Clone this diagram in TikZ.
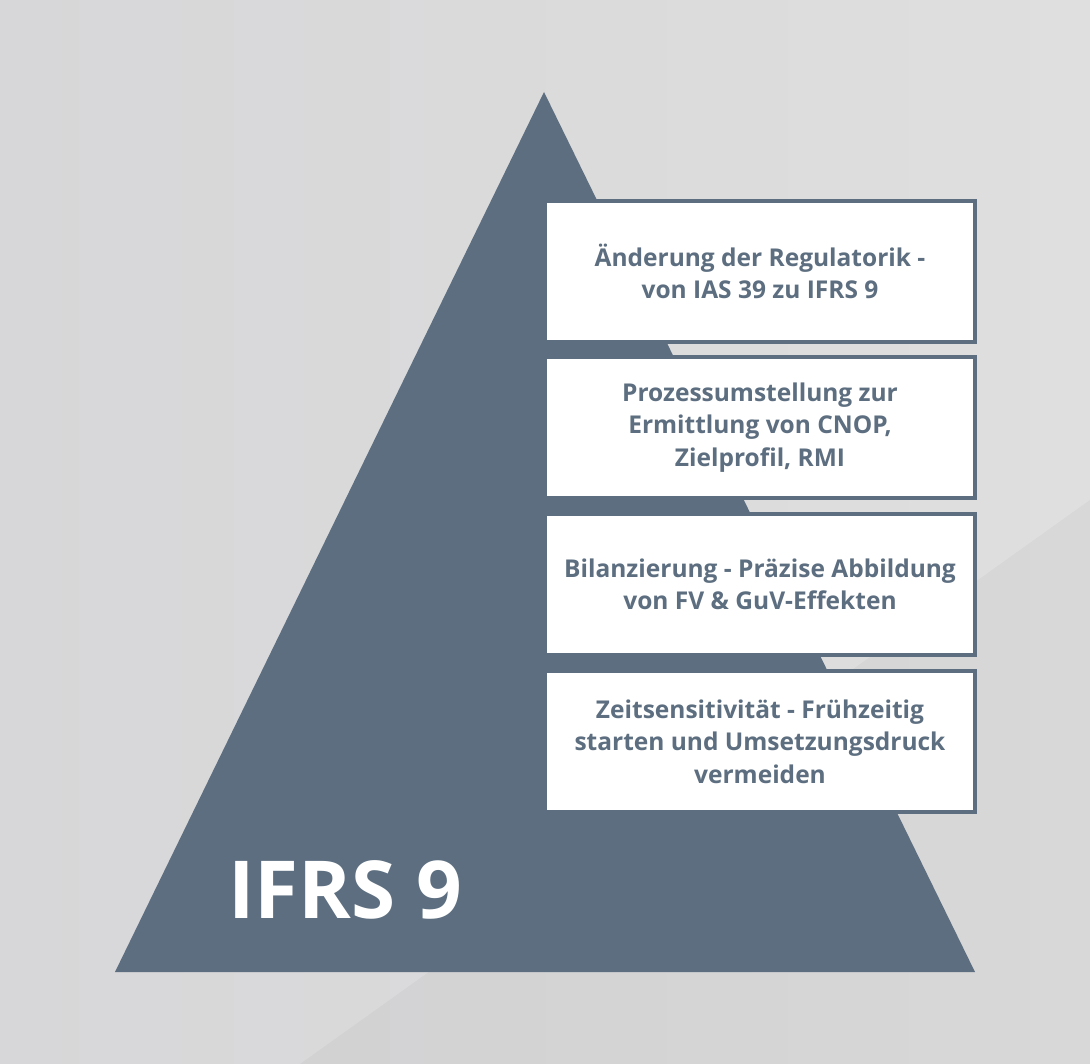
\documentclass[tikz,border=0pt]{standalone}
\usepackage{fontspec}
\setmainfont{Open Sans}
\definecolor{slate}{HTML}{5C6E7F}
\definecolor{bgleft}{HTML}{D7D6D8}
\definecolor{bgright}{HTML}{DFDFDF}
\tikzset{
  infobox/.style={rectangle, draw=slate, line width=4pt, fill=white,
    minimum width=430pt, minimum height=141pt, inner sep=0pt,
    align=center, text=slate, font=\fontsize{24.5}{32.5}\selectfont\bfseries},
  title/.style={anchor=base west, inner sep=0pt, text=white,
    font=\fontsize{80}{82}\selectfont\bfseries}
}
\begin{document}
\begin{tikzpicture}[x=1pt,y=-1pt]
\useasboundingbox (0,0) rectangle (1090,1064);
\shade[left color=bgleft, right color=bgright] (0,0) rectangle (1090,1064);
\fill[black, opacity=0.03] (1090,500) -- (1090,1064) -- (300,1064) -- cycle;
\fill[slate] (544,92) -- (975,972) -- (115,972) -- cycle;
\node[infobox] (b1) at (760,271.5) {Änderung der Regulatorik -\\von IAS 39 zu IFRS 9};
\node[infobox] (b2) at (760,427.5) {Prozessumstellung zur\\Ermittlung von CNOP,\\Zielprofil, RMI};
\node[infobox] (b3) at (760,584.5) {Bilanzierung - Präzise Abbildung\\von FV \& GuV-Effekten};
\node[infobox] (b4) at (760,741.5) {Zeitsensitivität - Frühzeitig\\starten und Umsetzungsdruck\\vermeiden};
\node[title] (t) at (228,918) {IFRS 9};
\end{tikzpicture}
\end{document}
